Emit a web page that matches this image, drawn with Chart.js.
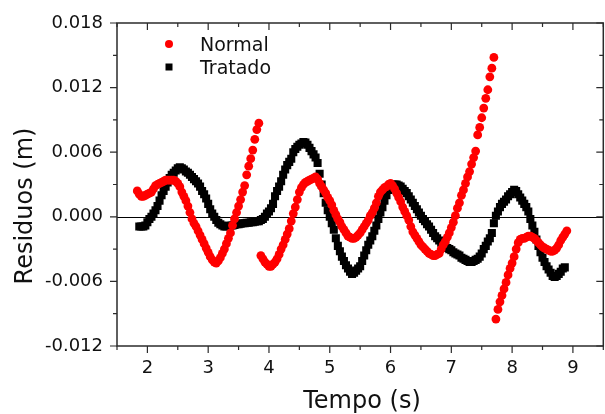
<!DOCTYPE html>
<html>
<head>
<meta charset="utf-8">
<script src="https://cdn.jsdelivr.net/npm/chart.js@4/dist/chart.umd.min.js"></script>
<style>
  html, body { margin: 0; padding: 0; background: #fff; overflow: hidden; }
  canvas { display: block; }
</style>
</head>
<body>
<!-- a few px wider than the window: Chart.js keeps half a marker of padding on the right -->
<canvas id="chart" width="609" height="414"></canvas>
<script>
// ── Data (residuals in mm, one sample per video frame at 30 fps) ─────────────
const FPS = 30;
const normalStartFrame  = 55;   // t = 1.833 s
const tratadoStartFrame = 56;   // t = 1.867 s

const normalMm = [
  2.4, 2.1, 1.9, 1.9, 2.0, 2.1, 2.2, 2.3, 2.6, 2.9,
  3.0, 3.1, 3.2, 3.3, 3.4, 3.4, 3.4, 3.4, 3.4, 3.3,
  3.1, 2.8, 2.3, 1.9, 1.5, 1.0, 0.4, -0.2, -0.6, -0.9,
  -1.3, -1.7, -2.1, -2.5, -2.9, -3.3, -3.7, -4.0, -4.2, -4.3,
  -4.1, -3.8, -3.4, -3.0, -2.5, -2.0, -1.5, -0.8, -0.2, 0.4,
  1.0, 1.6, 2.3, 2.9, 3.9, 4.7, 5.4, 6.2, 7.2, 8.1,
  8.7, -3.6, -3.9, -4.2, -4.4, -4.6, -4.6, -4.4, -4.2, -3.9,
  -3.5, -3.0, -2.6, -2.1, -1.6, -1.1, -0.4, 0.3, 0.9, 1.6,
  2.3, 2.7, 3.0, 3.2, 3.3, 3.4, 3.5, 3.6, 3.7, 3.5,
  3.1, 2.8, 2.5, 2.2, 1.8, 1.5, 1.1, 0.6, 0.2, -0.2,
  -0.5, -0.9, -1.2, -1.5, -1.8, -1.9, -2.0, -2.0, -1.9, -1.7,
  -1.5, -1.2, -0.9, -0.6, -0.3, 0.1, 0.4, 0.8, 1.3, 1.9,
  2.3, 2.5, 2.7, 2.8, 3.0, 3.1, 2.9, 2.6, 2.2, 1.8,
  1.4, 0.9, 0.5, 0.1, -0.3, -0.9, -1.4, -1.7, -2.0, -2.3,
  -2.6, -2.8, -3.0, -3.2, -3.4, -3.5, -3.6, -3.6, -3.5, -3.4,
  -3.0, -2.6, -2.3, -1.9, -1.5, -1.0, -0.5, 0.1, 0.8, 1.3,
  2.0, 2.5, 3.1, 3.7, 4.2, 4.9, 5.5, 6.1, 7.6, 8.3,
  9.2, 10.1, 11.0, 11.8, 13.0, 13.8, 14.8, -9.5, -8.6, -7.9,
  -7.3, -6.7, -6.1, -5.4, -4.8, -4.3, -3.7, -3.0, -2.4, -2.1,
  -2.0, -2.0, -1.9, -1.8, -1.8, -1.9, -2.0, -2.2, -2.4, -2.6,
  -2.8, -2.9, -3.0, -3.1, -3.2, -3.2, -3.1, -2.9, -2.6, -2.2,
  -1.9, -1.6, -1.3
];

const tratadoMm = [
  -0.9, -0.9, -0.9, -0.8, -0.5, -0.2, 0.0, 0.3, 0.6, 1.0,
  1.5, 2.0, 2.4, 2.8, 3.2, 3.6, 3.9, 4.1, 4.3, 4.5,
  4.6, 4.5, 4.4, 4.2, 4.1, 3.9, 3.7, 3.5, 3.3, 3.1,
  2.8, 2.4, 2.1, 1.7, 1.2, 0.7, 0.3, 0.0, -0.3, -0.55,
  -0.7, -0.8, -0.9, -0.9, -0.85, -0.8, -0.8, -0.75, -0.7, -0.7,
  -0.65, -0.6, -0.6, -0.55, -0.55, -0.5, -0.5, -0.45, -0.4, -0.4,
  -0.3, -0.2, 0.0, 0.3, 0.5, 0.8, 1.2, 1.9, 2.4, 2.8,
  3.3, 3.9, 4.4, 4.8, 5.1, 5.4, 6.0, 6.3, 6.5, 6.7,
  6.8, 6.95, 6.9, 6.7, 6.4, 6.1, 5.8, 5.5, 5.0, 4.0,
  3.0, 2.2, 1.3, 0.6, 0.0, -0.6, -1.2, -2.0, -2.7, -3.2,
  -3.7, -4.1, -4.5, -4.8, -5.1, -5.3, -5.2, -5.0, -4.8, -4.6,
  -4.1, -3.6, -3.1, -2.6, -2.2, -1.8, -1.3, -0.8, -0.2, 0.4,
  0.9, 1.5, 2.0, 2.5, 2.9, 3.0, 3.0, 3.0, 2.9, 2.8,
  2.6, 2.4, 2.2, 1.9, 1.6, 1.3, 1.0, 0.7, 0.4, 0.1,
  -0.2, -0.4, -0.7, -0.9, -1.2, -1.5, -1.8, -2.0, -2.2, -2.4,
  -2.6, -2.7, -2.9, -3.0, -3.1, -3.3, -3.4, -3.5, -3.6, -3.8,
  -3.9, -4.0, -4.1, -4.2, -4.2, -4.1, -4.0, -3.9, -3.7, -3.4,
  -3.0, -2.7, -2.3, -2.0, -1.5, -0.6, 0.1, 0.5, 0.9, 1.2,
  1.4, 1.6, 1.9, 2.1, 2.3, 2.5, 2.4, 2.1, 1.8, 1.5,
  1.2, 0.9, 0.5, -0.2, -0.8, -1.4, -2.1, -2.7, -3.3, -3.8,
  -4.2, -4.6, -4.9, -5.2, -5.5, -5.6, -5.5, -5.3, -5.1, -4.8,
  -4.7
];

const xTickLabels = [2, 3, 4, 5, 6, 7, 8, 9];
const yTickLabels = ["-0.012", "-0.006", "0.000", "0.006", "0.012", "0.018"];
const seriesNames = ["Normal", "Tratado"];

const FONT = '"DejaVu Sans", sans-serif';

function toPoints(valuesMm, startFrame) {
  return valuesMm.map((v, i) => ({ x: (startFrame + i) / FPS, y: v / 1000 }));
}

// ── Frame, Origin-style ticks, zero line, legend, axis titles ────────────────
const decorations = {
  id: "decorations",
  beforeDatasetsDraw(chart) {
    const { ctx, chartArea: a, scales: { y } } = chart;
    const y0 = Math.round(y.getPixelForValue(0)) + 0.5;
    ctx.save();
    ctx.strokeStyle = "#000";
    ctx.lineWidth = 1;
    ctx.beginPath();
    ctx.moveTo(a.left, y0);
    ctx.lineTo(a.right, y0);
    ctx.stroke();
    ctx.restore();
  },
  afterDraw(chart) {
    const { ctx, chartArea: a, scales: { x, y } } = chart;
    ctx.save();
    ctx.strokeStyle = "#2b2b2b";
    ctx.lineWidth = 1.5;
    ctx.strokeRect(a.left, a.top, a.right - a.left, a.bottom - a.top);

    ctx.lineWidth = 1.2;
    ctx.beginPath();
    x.ticks.forEach(t => {
      const px = x.getPixelForValue(t.value);
      const len = t.label !== "" ? 7 : 4;
      ctx.moveTo(px, a.bottom); ctx.lineTo(px, a.bottom + len);
      ctx.moveTo(px, a.top);    ctx.lineTo(px, a.top + len);
    });
    y.ticks.forEach(t => {
      const py = y.getPixelForValue(t.value);
      const len = t.label !== "" ? 7 : 4;
      ctx.moveTo(a.left, py);  ctx.lineTo(a.left - len, py);
      ctx.moveTo(a.right, py); ctx.lineTo(a.right - len, py);
    });
    ctx.stroke();

    // axis titles
    ctx.fillStyle = "#111";
    ctx.font = `24px ${FONT}`;
    ctx.textAlign = "center";
    ctx.textBaseline = "alphabetic";
    ctx.fillText("Tempo (s)", 362, 408);
    ctx.save();
    ctx.translate(32, 206);
    ctx.rotate(-Math.PI / 2);
    ctx.fillText("Residuos (m)", 0, 0);
    ctx.restore();

    // legend
    ctx.font = `19px ${FONT}`;
    ctx.textAlign = "left";
    chart.data.datasets.forEach((ds, i) => {
      const cy = 44 + i * 23;
      ctx.fillStyle = ds.backgroundColor;
      if (ds.pointStyle === "rect") {
        ctx.fillRect(165.5, cy - 3.5, 7, 7);
      } else {
        ctx.beginPath();
        ctx.arc(169, cy, 4, 0, Math.PI * 2);
        ctx.fill();
      }
      ctx.fillStyle = "#111";
      ctx.fillText(ds.label, 200, cy + 7);
    });
    ctx.restore();
  },
};

new Chart(document.getElementById("chart"), {
  type: "scatter",
  data: {
    datasets: [
      {
        label: seriesNames[0],
        data: toPoints(normalMm, normalStartFrame),
        pointStyle: "circle",
        pointRadius: 4.4,
        borderWidth: 0,
        backgroundColor: "#ff0000",
        borderColor: "#ff0000",
      },
      {
        label: seriesNames[1],
        data: toPoints(tratadoMm, tratadoStartFrame),
        pointStyle: "rect",
        pointRadius: 5.7,
        borderWidth: 0,
        backgroundColor: "#000000",
        borderColor: "#000000",
      },
    ],
  },
  options: {
    responsive: false,
    animation: false,
    layout: { padding: { top: 23, right: 0, left: 0, bottom: 0 } },
    plugins: { legend: { display: false }, tooltip: { enabled: false } },
    scales: {
      x: {
        type: "linear", min: 1.5, max: 9.5,
        afterFit: s => { s.height = 68; s.paddingLeft = 0; s.paddingRight = 0; },
        border: { display: false },
        grid: { drawOnChartArea: false, drawTicks: false },
        ticks: {
          stepSize: 0.5, autoSkip: false, maxRotation: 0, padding: 12,
          color: "#111", font: { family: FONT, size: 18 },
          callback: v => (xTickLabels.includes(v) ? String(v) : ""),
        },
      },
      y: {
        type: "linear", min: -0.012, max: 0.018,
        afterFit: s => { s.width = 117; s.paddingTop = 0; s.paddingBottom = 0; },
        border: { display: false },
        grid: { drawOnChartArea: false, drawTicks: false },
        ticks: {
          stepSize: 0.003, autoSkip: false, padding: 14,
          color: "#111", font: { family: FONT, size: 18 },
          callback: v => yTickLabels.find(l => Math.abs(Number(l) - v) < 1e-9) || "",
        },
      },
    },
  },
  plugins: [decorations],
});
</script>
</body>
</html>
